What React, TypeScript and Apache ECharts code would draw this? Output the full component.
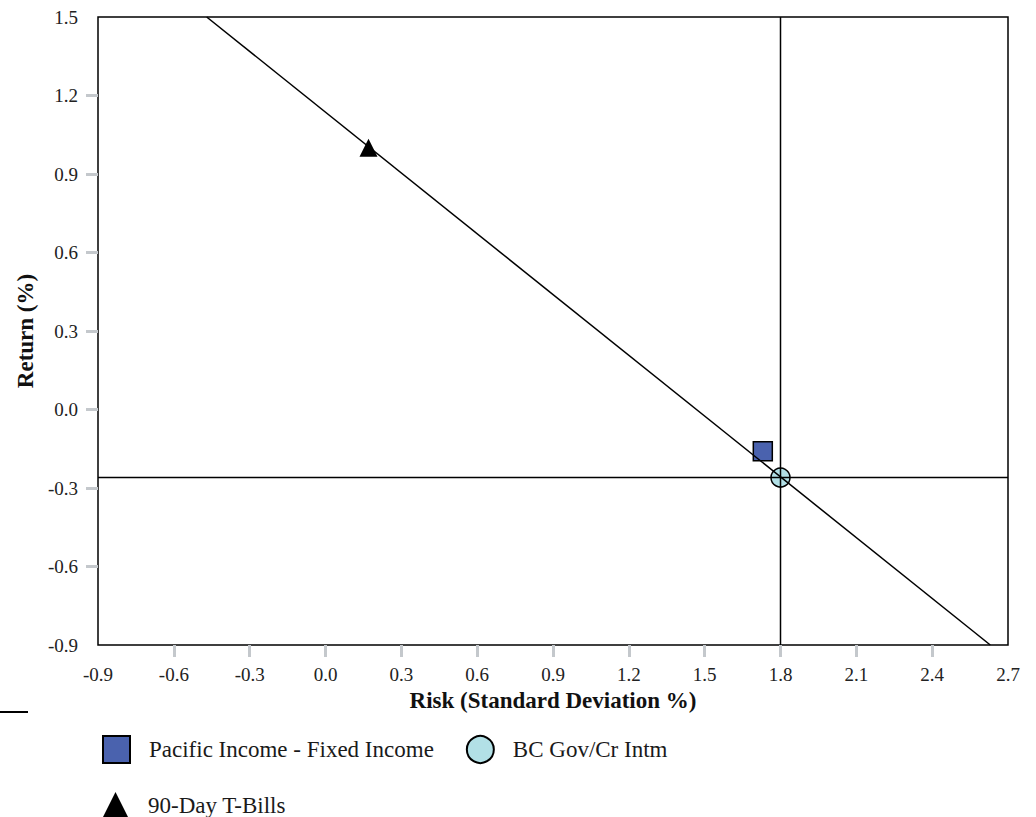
import React, { useEffect, useRef } from "react";
import * as echarts from "echarts";

const seriesNames = ["Pacific Income - Fixed Income", "BC Gov/Cr Intm", "90-Day T-Bills"];
const pacificPoint = [[1.73, -0.16]];
const bcPoint = [[1.8, -0.26]];
const tbillPoint = [[0.17, 1.0]];
const cmlLine = [[-0.47, 1.5], [2.63, -0.9]];
const hLine = [[-0.9, -0.26], [2.7, -0.26]];
const vLine = [[1.8, -0.9], [1.8, 1.5]];
const xTicks = [-0.6, -0.3, 0.0, 0.3, 0.6, 0.9, 1.2, 1.5, 1.8, 2.1, 2.4];
const yTicks = [-0.6, -0.3, 0.0, 0.3, 0.6, 0.9, 1.2];

const FONT = "Liberation Serif";

export default function App() {
  const ref = useRef<HTMLDivElement>(null);
  useEffect(() => {
    if (!ref.current) return;
    const chart = echarts.init(ref.current, undefined, { renderer: "svg" });
    const lineSeries = (name: string, data: number[][]) => ({
      name,
      type: "line",
      data,
      symbol: "none",
      lineStyle: { color: "#000", width: 1.5 },
      z: 5,
      silent: true,
    });
    const legendText = {
      fontFamily: FONT,
      fontSize: 23,
      color: "#1a1a1a",
      rich: {
        t: { fontFamily: FONT, fontSize: 23, color: "#1a1a1a", padding: [0, 0, 0, 14] },
      },
    };
    const legendFormatter = (name: string) => "{t|" + name + "}";
    chart.setOption({
      animation: false,
      textStyle: { fontFamily: FONT },
      grid: {
        left: 98,
        top: 17,
        right: 28,
        bottom: 172,
        show: true,
        borderColor: "#000",
        borderWidth: 1.5,
        backgroundColor: "transparent",
      },
      xAxis: {
        type: "value",
        min: -0.9,
        max: 2.7,
        interval: 0.3,
        name: "Risk (Standard Deviation %)",
        nameLocation: "middle",
        nameGap: 31,
        nameTextStyle: { fontFamily: FONT, fontSize: 23, fontWeight: "bold", color: "#111" },
        axisLine: { show: false, onZero: false },
        splitLine: { show: false },
        axisTick: {
          show: true,
          customValues: xTicks,
          length: 12,
          lineStyle: { color: "#c4c8cc", width: 3 },
        },
        axisLabel: {
          margin: 20,
          fontFamily: FONT,
          fontSize: 19,
          color: "#222",
          formatter: (v: number) => v.toFixed(1),
        },
      },
      yAxis: {
        type: "value",
        min: -0.9,
        max: 1.5,
        interval: 0.3,
        name: "Return (%)",
        nameLocation: "middle",
        nameGap: 58,
        nameTextStyle: { fontFamily: FONT, fontSize: 23, fontWeight: "bold", color: "#111" },
        axisLine: { show: false, onZero: false },
        splitLine: { show: false },
        axisTick: {
          show: true,
          customValues: yTicks,
          length: 12,
          lineStyle: { color: "#c4c8cc", width: 3 },
        },
        axisLabel: {
          margin: 20,
          fontFamily: FONT,
          fontSize: 19,
          color: "#222",
          formatter: (v: number) => v.toFixed(1),
        },
      },
      legend: [
        {
          data: [seriesNames[0], seriesNames[1]],
          left: 97,
          top: 730,
          orient: "horizontal",
          itemWidth: 27,
          itemHeight: 27,
          itemGap: 32,
          textStyle: legendText,
          formatter: legendFormatter,
          selectedMode: false,
        },
        {
          data: [seriesNames[2]],
          left: 97,
          top: 787,
          itemWidth: 27,
          itemHeight: 27,
          textStyle: legendText,
          formatter: legendFormatter,
          selectedMode: false,
        },
      ],
      graphic: [
        {
          type: "line",
          shape: { x1: 0, y1: 712, x2: 28, y2: 712 },
          style: { stroke: "#000", lineWidth: 2 },
        },
      ],
      series: [
        {
          name: seriesNames[0],
          type: "scatter",
          data: pacificPoint,
          symbol: "rect",
          symbolSize: 19,
          itemStyle: { color: "#4A62AE", borderColor: "#000", borderWidth: 1.5, opacity: 1 },
          z: 3,
        },
        {
          name: seriesNames[1],
          type: "scatter",
          data: bcPoint,
          symbol: "circle",
          symbolSize: 19,
          itemStyle: { color: "#B2E0E6", borderColor: "#000", borderWidth: 1.5, opacity: 1 },
          z: 3,
        },
        {
          name: seriesNames[2],
          type: "scatter",
          data: tbillPoint,
          symbol: "triangle",
          symbolSize: 18,
          itemStyle: { color: "#000", opacity: 1 },
          z: 3,
        },
        lineSeries("cml", cmlLine),
        lineSeries("hline", hLine),
        lineSeries("vline", vLine),
      ],
    });
    return () => chart.dispose();
  }, []);
  return (
    <div
      ref={ref}
      style={{ position: "absolute", left: 0, top: 0, width: 1036, height: 817, background: "#fff" }}
    />
  );
}
